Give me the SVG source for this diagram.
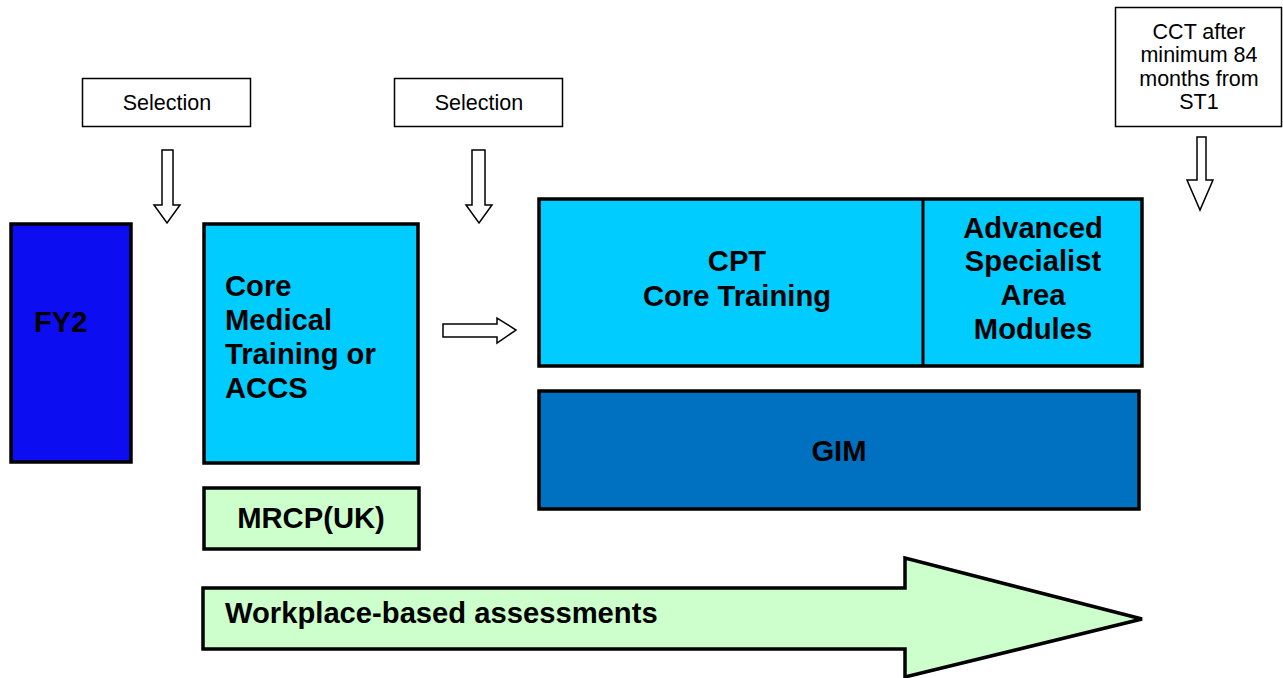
<svg xmlns="http://www.w3.org/2000/svg" width="1283" height="678" viewBox="0 0 1283 678">
<style>
.box{stroke:#000;stroke-width:3.5}
.note{fill:#fff;stroke:#000;stroke-width:1.5}
.arr{fill:#fff;stroke:#000;stroke-width:1.5;stroke-linejoin:miter}
.b{font-family:"Liberation Sans",Arial,sans-serif;font-weight:bold;font-size:29.2px;fill:#000}
.n{font-family:"Liberation Sans",Arial,sans-serif;font-size:21.5px;fill:#000}
.c{text-anchor:middle}
</style>
<rect width="1283" height="678" fill="#fff"/>
<g id="selection1">
<rect class="note" x="82.5" y="78.5" width="168" height="48"/>
<text class="n c" x="167" y="110">Selection</text>
</g>
<g id="selection2">
<rect class="note" x="394.5" y="78.5" width="168" height="48"/>
<text class="n c" x="479" y="110">Selection</text>
</g>
<g id="cct">
<rect class="note" x="1115.5" y="7.5" width="166" height="119"/>
<text class="n c" x="1199" y="38.5">CCT after</text>
<text class="n c" x="1199" y="62">minimum 84</text>
<text class="n c" x="1199" y="85.5">months from</text>
<text class="n c" x="1199" y="109">ST1</text>
</g>
<g id="fy2">
<rect class="box" x="11" y="224" width="120" height="238" fill="#0D0DF2"/>
<text class="b" x="34" y="331.5">FY2</text>
</g>
<g id="core-medical">
<rect class="box" x="204" y="224" width="214" height="239" fill="#00CCFF"/>
<text class="b" x="225" y="296">Core</text>
<text class="b" x="225" y="330">Medical</text>
<text class="b" x="225" y="364">Training or</text>
<text class="b" x="225" y="398">ACCS</text>
</g>
<g id="mrcp">
<rect class="box" x="204" y="488" width="215" height="61" fill="#CCFFCC"/>
<text class="b c" x="311" y="528">MRCP(UK)</text>
</g>
<g id="cpt">
<rect class="box" x="539" y="199" width="603" height="167" fill="#00CCFF"/>
<line x1="923" y1="199" x2="923" y2="366" stroke="#000" stroke-width="3"/>
<text class="b c" x="737" y="271">CPT</text>
<text class="b c" x="737" y="306">Core Training</text>
</g>
<g id="advanced">
<text class="b c" x="1033" y="237.5">Advanced</text>
<text class="b c" x="1033" y="271">Specialist</text>
<text class="b c" x="1033" y="305">Area</text>
<text class="b c" x="1033" y="339">Modules</text>
</g>
<g id="gim">
<rect class="box" x="539" y="391" width="600" height="118" fill="#0070C0"/>
<text class="b c" x="839" y="461">GIM</text>
</g>
<g id="wba">
<polygon class="box" fill="#CCFFCC" points="203,588 905,588 905,558 1142,619 905,677 905,649 203,649"/>
<text class="b" x="225" y="622.5">Workplace-based assessments</text>
</g>
<g id="connectors">
<polygon class="arr" points="162,150 173,150 173,205 180,205 167,223 154,205 162,205"/>
<polygon class="arr" points="472,150 485,150 485,205 492,205 479,223 466,205 472,205"/>
<polygon class="arr" points="1197,137 1206,137 1206,180 1213,180 1200,210 1187,180 1197,180"/>
<polygon class="arr" points="443,324 497,324 497,318 516,330 497,343 497,337 443,337"/>
</g>
</svg>
